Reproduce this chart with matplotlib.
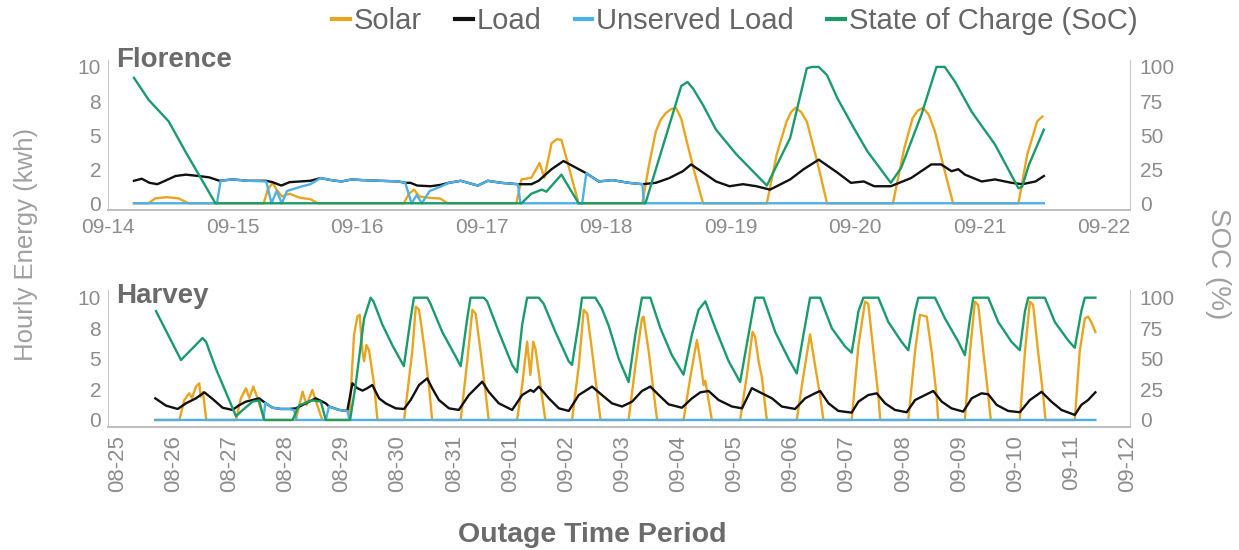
import numpy as np
import pandas as pd
import matplotlib
matplotlib.use('Agg')
import matplotlib.pyplot as plt
import matplotlib.dates as mdates
from matplotlib.lines import Line2D
from matplotlib.ticker import FormatStrFormatter

plt.rcParams['font.family'] = ['Liberation Sans', 'DejaVu Sans']

# colours
SOLAR_C = '#E9A520'
LOAD_C = '#111111'
UNSERVED_C = '#4DB0E6'
SOC_C = '#1A9B6A'
TICK_C = '#8C8C8C'
SPINE_C = '#C8C8C8'

# ---- Florence (hours since 2018-09-14 00:00, value) ----
fl_start = '2018-09-14'
fl_solar = [(5, 0), (7.8, 0), (9.1, 0.36), (11.3, 0.45), (13.6, 0.36), (15.5, 0),
            (30, 0), (30.8, 1.0), (31.7, 1.5), (32.5, 1.0), (33.5, 0.5), (35, 0.7), (37, 0.4), (39, 0.3), (40.5, 0),
            (57, 0), (58, 0.7), (59, 1.0), (60, 0.5), (62, 0.4), (64, 0.35), (65.5, 0),
            (78.7, 0), (79.7, 1.75), (81.6, 1.87), (83.2, 2.96), (84.1, 1.87), (85.5, 4.4), (86.5, 4.7),
            (87.4, 4.65), (88.7, 2.84), (90.7, 0),
            (103, 0), (104.3, 2.84), (105.6, 5.27), (106.5, 6.1), (107.5, 6.6), (108.5, 6.9), (109.5, 7.0),
            (110.5, 6.2), (111.4, 4.78), (113, 2.35), (114.7, 0),
            (127, 0), (128.9, 3.57), (130.8, 6.0), (131.7, 6.7), (132.5, 7.0), (133.6, 6.7), (134.7, 6.0),
            (136.7, 3.08), (138.6, 0),
            (151.3, 0), (153.5, 4.05), (155.1, 6.24), (156.1, 6.8), (157.1, 7.0), (158.2, 6.5), (159.4, 5.27),
            (161.3, 2.35), (162.9, 0),
            (175.5, 0), (177.2, 3.57), (179.1, 6.0), (180.1, 6.36)]
fl_load = [(5, 1.65), (6.5, 1.8), (8, 1.5), (9.5, 1.4), (11, 1.65), (13, 2.0), (15, 2.1), (17.5, 2.0),
           (19.5, 1.9), (21.5, 1.65), (24, 1.75), (27, 1.65), (30.5, 1.65), (31.7, 1.55), (33.4, 1.3),
           (35, 1.55), (37, 1.6), (39, 1.65), (41, 1.85), (43, 1.7), (45, 1.6), (47, 1.75), (49, 1.7),
           (52.5, 1.65), (56, 1.6), (57.3, 1.5), (58.3, 1.5), (59.6, 1.3), (62.2, 1.25), (64.1, 1.35),
           (65.7, 1.5), (68, 1.65), (71.3, 1.3), (73.2, 1.65), (75.8, 1.5), (79, 1.4), (81.6, 1.4),
           (83, 1.65), (85.5, 2.5), (87.8, 3.1), (90, 2.65), (92.2, 2.2), (94.6, 1.6), (97.2, 1.7),
           (100.4, 1.5), (103, 1.4), (105.6, 1.5), (108.2, 1.85), (110.8, 2.35), (112.4, 2.85), (114.7, 2.25),
           (117.2, 1.6), (119.8, 1.25), (122.4, 1.4), (125, 1.25), (127.6, 1.0), (131.5, 1.75), (134.1, 2.5),
           (137, 3.2), (140.6, 2.25), (143.2, 1.5), (145.7, 1.6), (147.7, 1.25), (150.9, 1.25), (154.8, 1.85),
           (158.7, 2.85), (160.6, 2.85), (162.6, 2.35), (163.9, 2.5), (165.2, 2.1), (168.4, 1.6), (171, 1.75),
           (174.2, 1.5), (176.2, 1.4), (178.8, 1.6), (180.4, 2.0)]
fl_unserved = [(5, 0), (21, 0), (21.7, 1.65), (24, 1.75), (27, 1.65), (30.5, 1.6), (31.5, 0), (32.5, 0.9),
               (33.5, 0), (34.5, 0.9), (37, 1.2), (39, 1.4), (41, 1.85), (43, 1.7), (45, 1.6), (47, 1.75),
               (49, 1.7), (52.5, 1.65), (56, 1.6), (57.3, 1.5), (58.5, 0), (59.5, 0.6), (60.5, 0), (62, 0.9),
               (64, 1.2), (65.7, 1.5), (68, 1.65), (71.3, 1.3), (73.2, 1.65), (75.8, 1.5), (79, 1.4),
               (79.5, 0), (91.4, 0), (92.2, 2.2), (94.6, 1.6), (97.2, 1.7), (100.4, 1.5), (103, 1.4),
               (103.3, 0), (180.4, 0)]
fl_soc = [(5, 92), (7.8, 76), (11.7, 60), (14.9, 38), (20.7, 0), (79.7, 0), (81.6, 7), (83.6, 10),
          (84.5, 8.5), (87.4, 21), (90.7, 0), (103.6, 0), (110.5, 86), (111.7, 89), (112.8, 84), (114.7, 72),
          (117.2, 54), (121.1, 36), (127, 13), (131.5, 48), (134.7, 99), (135.7, 100), (137, 100),
          (138.6, 94), (140.6, 77), (143.8, 55), (146.4, 38), (150.9, 15), (152.9, 26), (156.8, 65),
          (159.7, 100), (161.3, 100), (163.3, 89), (166.5, 67), (171, 43), (175.5, 11), (176.2, 12),
          (177.5, 28), (180.4, 54)]

# ---- Harvey (hours since 2017-08-25 00:00, value) ----
hv_start = '2017-08-25'
hv_solar = [(16.2, 0), (26.5, 0), (28.6, 1.63), (30.7, 2.18), (31.9, 1.8), (33.6, 2.73), (35, 3.0),
            (35.6, 1.9), (36.6, 2.3), (38, 0),
            (50.7, 0), (52.8, 1.77), (55, 2.59), (56.4, 1.8), (58.1, 2.73), (59.9, 1.8), (62.8, 0),
            (76.3, 0), (79.2, 2.32), (80.9, 1.23), (83.4, 2.45), (85.5, 1.2), (87.6, 0),
            (99.1, 0), (101.2, 6.95), (102.6, 8.45), (103.6, 8.6), (104.8, 5.6), (105.5, 4.8), (106.5, 6.13),
            (107.6, 5.7), (109.8, 2.86), (111.2, 0),
            (122.6, 0), (126.1, 5.6), (127.6, 9.27), (129, 9.0), (131.1, 6.13), (133.2, 2.86), (134.6, 0),
            (146.8, 0), (149.6, 4.8), (151.8, 9.0), (153.2, 8.7), (155.3, 5.6), (157.4, 2.3), (158.8, 0),
            (170.9, 0), (173.1, 2.86), (175.2, 6.4), (176.6, 3.68), (177.8, 6.4), (178.8, 5.8), (180.9, 2.86),
            (183, 0),
            (194.4, 0), (197.3, 4.4), (199.4, 9.0), (200.9, 8.7), (203, 5.6), (205.1, 2.3), (206.6, 0),
            (218.6, 0), (221.5, 4.4), (224.3, 8.3), (225, 8.45), (227.2, 5.6), (229.3, 2.3), (230.8, 0),
            (242.1, 0), (245, 3.5), (247.8, 6.54), (249.3, 4.8), (250.7, 2.86), (251.4, 3.2), (254.2, 0),
            (266.3, 0), (269.2, 3.68), (271.6, 7.2), (272.7, 6.8), (274.2, 4.8), (275.6, 3.5), (277.7, 0),
            (290.5, 0), (293.4, 3.68), (296.2, 7.0), (298.3, 4.5), (300.5, 2.0), (301.9, 0),
            (314, 0), (316.9, 6.1), (319.7, 9.68), (321.1, 9.5), (323.3, 5.6), (325.4, 2.0), (326.2, 0),
            (338.2, 0), (341.1, 5.6), (343.2, 8.6), (346.1, 8.45), (348.2, 5.6), (350.3, 2.0), (351, 0),
            (362.4, 0), (364.6, 5.6), (366.7, 9.68), (368.1, 9.4), (370.3, 5.6), (372.4, 2.0), (373.5, 0),
            (385.9, 0), (388.1, 5.6), (390.2, 9.68), (391.6, 9.4), (393.7, 5.6), (395.9, 2.0), (396.9, 0),
            (409.4, 0), (411.5, 5.6), (413.7, 8.3), (415.1, 8.45), (416.5, 8.0), (418.2, 7.2)]
hv_load = [(16.2, 1.77), (20.8, 1.17), (25.8, 0.9), (29.3, 1.36), (33.6, 1.77), (37.2, 2.26), (40.7, 1.72),
           (45, 1.0), (49.2, 0.82), (52, 1.2), (55, 1.5), (60.6, 1.77), (63.2, 1.4), (66.3, 1.0), (69.9, 0.9),
           (73.5, 0.9), (76.3, 0.95), (80.6, 1.36), (84.8, 1.77), (89.1, 1.36), (90.5, 1.1), (94.8, 0.82),
           (98.3, 0.74), (100.5, 3.0), (102.6, 2.6), (104.8, 2.4), (106.9, 2.6), (109, 2.86), (111.9, 1.77),
           (114.7, 1.36), (119, 0.95), (122.6, 0.9), (125.4, 1.63), (129, 2.86), (132.5, 3.4), (134.6, 2.6),
           (137.5, 1.63), (141.8, 0.95), (146, 0.82), (150.3, 2.04), (156, 3.13), (158.8, 2.3), (163.1, 1.36),
           (168.8, 0.82), (173.1, 2.04), (176.6, 2.45), (178, 2.3), (180.2, 2.73), (184.5, 1.77), (188.8, 0.95),
           (193, 0.74), (197.3, 2.04), (203, 2.73), (207.2, 2.04), (211.5, 1.36), (215.8, 1.1), (220.1, 1.5),
           (224.3, 2.37), (227.9, 2.73), (231.5, 2.04), (235.7, 1.28), (241.4, 1.0), (245.7, 1.77),
           (249.3, 2.26), (252.8, 2.37), (257.1, 1.63), (262.8, 1.1), (267.1, 0.95), (271.3, 2.6),
           (275.6, 2.18), (279.9, 1.77), (284.1, 1.1), (289.8, 0.9), (294.1, 1.77), (298.3, 2.18),
           (300.5, 2.37), (304.1, 1.36), (308.3, 0.74), (314, 0.6), (316.9, 1.5), (321.1, 2.04), (324.7, 2.18),
           (328.3, 1.36), (332.5, 0.82), (337.5, 0.63), (341.1, 1.63), (345.4, 2.04), (348.9, 2.37),
           (352.5, 1.5), (356.7, 0.95), (361.7, 0.68), (365.3, 1.77), (369.5, 2.18), (372.4, 2.1), (376, 1.23),
           (380.9, 0.74), (385.9, 0.63), (390.2, 1.63), (395.2, 2.3), (399.4, 1.5), (403.7, 0.82),
           (409.4, 0.41), (412.2, 1.23), (415.1, 1.63), (418.2, 2.26)]
hv_unserved = [(16.2, 0), (62.5, 0), (63.2, 1.4), (66.3, 1.0), (69.9, 0.9), (73.5, 0.9), (75.6, 0.8),
               (76.5, 0), (89.1, 0), (90.5, 1.1), (94.8, 0.82), (98.3, 0.74), (99.3, 0), (418.2, 0)]
hv_soc = [(16.5, 89), (27.2, 49), (36.4, 67), (37.9, 64), (42.1, 42), (49.2, 10), (50.7, 3), (53.5, 8),
          (57.8, 15), (60.6, 16), (62.8, 0), (74.9, 0), (77.7, 12), (83.4, 16), (87, 15), (89.1, 0),
          (99.5, 0), (101.9, 29), (105.5, 83), (108.3, 100), (109.5, 97), (113.3, 78), (117.6, 61),
          (122.5, 44), (125.4, 83), (126.8, 100), (132.5, 100), (133.9, 95), (138.9, 72), (144.6, 52),
          (146.8, 44), (149.6, 83), (151, 100), (156.7, 100), (158.1, 97), (163.1, 72), (168.8, 45),
          (170.9, 39), (173.1, 78), (175.2, 100), (180.2, 100), (182.3, 95), (187.3, 72), (193, 48),
          (194.4, 45), (197.3, 80), (198.7, 100), (204.4, 100), (207.2, 91), (210.1, 77), (214.4, 50),
          (218.6, 31), (221.5, 70), (224.3, 100), (227.9, 100), (232.2, 75), (237.1, 53), (242.1, 37),
          (245.7, 70), (248.5, 90), (251.4, 97), (255.7, 75), (261.4, 48), (266.3, 31), (269.9, 70),
          (272.7, 100), (276.3, 100), (281.3, 72), (287, 50), (290.5, 38), (293.4, 70), (296.2, 100),
          (300.5, 100), (305.5, 75), (311.2, 60), (314, 55), (316.9, 89), (319, 100), (325.4, 100),
          (329.7, 80), (335.3, 64), (338.2, 57), (341.1, 89), (342.5, 100), (349.6, 100), (353.9, 83),
          (359.6, 64), (362.4, 53), (364.6, 83), (366, 100), (372.4, 100), (376.7, 80), (382.3, 64),
          (385.9, 57), (388.1, 89), (389.5, 100), (396.6, 100), (400.9, 80), (406.6, 65), (409.4, 59),
          (412.2, 89), (413.7, 100), (418.2, 100)]

energy_ticks = [0, 2.5, 5, 7.5, 10]
soc_ticks = [0, 25, 50, 75, 100]


def series(start, pairs):
    h = np.array([p[0] for p in pairs], dtype=float)
    v = np.array([p[1] for p in pairs], dtype=float)
    t = pd.Timestamp(start) + pd.to_timedelta(h, unit='h')
    return t.to_numpy(), v


def draw_panel(ax, start, solar, load, unserved, soc, ylim, xlim, rot, xsize):
    lw = 1.7
    ax.plot(*series(start, solar), color=SOLAR_C, lw=lw)
    ax.plot(*series(start, load), color=LOAD_C, lw=lw)
    ax.plot(*series(start, unserved), color=UNSERVED_C, lw=lw)
    ax.set_ylim(ylim)
    ax.set_xlim(xlim)
    ax.set_yticks(energy_ticks)
    ax.yaxis.set_major_formatter(FormatStrFormatter('%.0f'))
    ax.xaxis.set_major_locator(mdates.DayLocator())
    ax.xaxis.set_major_formatter(mdates.DateFormatter('%m-%d'))
    for s in ['top', 'right']:
        ax.spines[s].set_visible(False)
    ax.spines['left'].set_color(SPINE_C)
    ax.spines['bottom'].set_color('#BDBDBD')
    ax.spines['bottom'].set_linewidth(1.4)
    ax.tick_params(axis='y', length=0, labelsize=15, labelcolor=TICK_C, pad=5)
    ax.tick_params(axis='x', length=0, labelsize=xsize, labelcolor=TICK_C, pad=6, labelrotation=rot)

    axr = ax.twinx()
    axr.plot(*series(start, soc), color=SOC_C, lw=lw)
    axr.set_ylim(ylim[0] * 10, ylim[1] * 10)
    axr.set_yticks(soc_ticks)
    for s in ['top', 'left', 'bottom']:
        axr.spines[s].set_visible(False)
    axr.spines['right'].set_color(SPINE_C)
    axr.tick_params(axis='y', length=0, labelsize=15, labelcolor=TICK_C, pad=7)
    return axr


fig = plt.figure(figsize=(12.39, 5.5), dpi=100)
ax1 = fig.add_axes([0.0872, 0.618, 0.8248, 0.2727])
ax2 = fig.add_axes([0.0872, 0.2242, 0.8248, 0.2479])

t0 = pd.Timestamp(fl_start)
draw_panel(ax1, fl_start, fl_solar, fl_load, fl_unserved, fl_soc, (-0.5, 10.5),
           (t0, t0 + pd.Timedelta(hours=8 * 24 + 5)), 0, 15)
t1 = pd.Timestamp(hv_start)
draw_panel(ax2, hv_start, hv_solar, hv_load, hv_unserved, hv_soc, (-0.55, 10.6),
           (t1 - pd.Timedelta(hours=4), t1 + pd.Timedelta(hours=18 * 24 + 1)), 90, 16)

fig.text(0.094, 0.891, 'Florence', fontsize=20, fontweight='bold', color='#6B6B6B', va='center', ha='left')
fig.text(0.094, 0.462, 'Harvey', fontsize=20, fontweight='bold', color='#6B6B6B', va='center', ha='left')

fig.text(0.021, 0.555, 'Hourly Energy (kwh)', rotation=90, fontsize=18.5, color='#A0A0A0',
         va='center', ha='center')
fig.text(0.983, 0.52, 'SOC (%)', rotation=270, fontsize=20, color='#A0A0A0', va='center', ha='center')
fig.text(0.478, 0.027, 'Outage Time Period', fontsize=20.5, fontweight='bold', color='#6B6B6B',
         va='center', ha='center')

handles = [Line2D([], [], color=c, lw=3) for c in [SOLAR_C, LOAD_C, UNSERVED_C, SOC_C]]
labels = ['Solar', 'Load', 'Unserved Load', 'State of Charge (SoC)']
fig.legend(handles, labels, loc='center', bbox_to_anchor=(0.593, 0.962), ncol=4, frameon=False,
           fontsize=21, handlelength=0.6, handletextpad=0.13, columnspacing=1.15, labelcolor='#666666')

fig.savefig('out.png', dpi=100)
